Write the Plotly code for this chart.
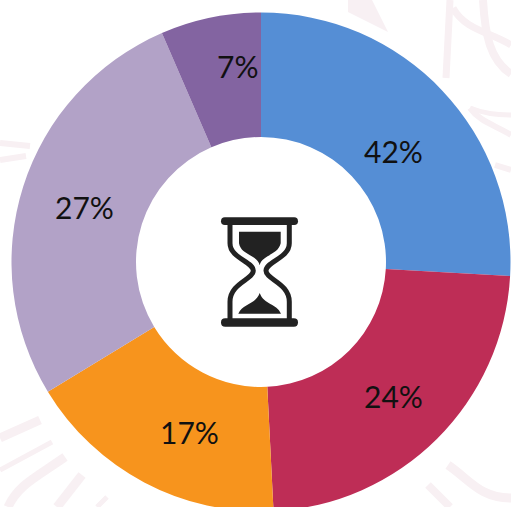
import plotly.graph_objects as go

# Data
slice_labels = ["42%", "24%", "17%", "27%", "7%"]
slice_sizes = [25.9, 23.3, 17.1, 27.2, 6.5]
slice_colors = ["#558ed5", "#be2d56", "#f7941d", "#b2a2c7", "#8364a1"]

W, H = 511, 507
CX, CY, R = 261, 262, 249.5

# Hand-placed label anchors, in page pixels
label_xy = [(393, 151), (393, 396), (189, 432), (84, 207), (237, 66)]


def zx(v):
    return 190 + v / 3


def zy(v):
    return 190 + v / 3


def P(x, y):
    return f"{zx(x):.1f},{zy(y):.1f}"


def bar(x0, x1, y0, y1):
    m = (y0 + y1) / 2
    r = (y1 - y0) / 2
    return (
        f"M{P(x0 + r, y0)} L{P(x1 - r, y0)} Q{P(x1, y0)} {P(x1, m)} Q{P(x1, y1)} {P(x1 - r, y1)} "
        f"L{P(x0 + r, y1)} Q{P(x0, y1)} {P(x0, m)} Q{P(x0, y0)} {P(x0 + r, y0)} Z"
    )


ICON = "#222222"
glass_left = (
    f"M{P(120,100)} L{P(120,160)} C{P(120,205)} {P(190,215)} {P(190,242)} "
    f"C{P(190,268)} {P(120,280)} {P(120,335)} L{P(120,392)}"
)
glass_right = (
    f"M{P(298,100)} L{P(298,160)} C{P(298,205)} {P(228,215)} {P(228,242)} "
    f"C{P(228,268)} {P(298,280)} {P(298,335)} L{P(298,392)}"
)
sand_top = f"M{P(147,125)} L{P(272,125)} L{P(272,160)} C{P(265,195)} {P(215,195)} {P(209,226)} C{P(203,195)} {P(152,195)} {P(147,160)} Z"
sand_bot = f"M{P(145,371)} L{P(273,371)} C{P(260,340)} {P(222,345)} {P(209,309)} C{P(196,345)} {P(158,340)} {P(145,371)} Z"

shapes = []

# Faint watermark strokes behind the ring
BG = "#f8f0f3"
strokes = [
    ("M0,438 L40,420", 9),
    ("M0,470 L52,442", 5),
    ("M8,507 C18,485 35,478 65,457", 9),
    ("M57,507 L82,475", 9),
    ("M97,507 L107,497", 5),
    ("M448,465 C470,480 480,498 511,498", 9),
    ("M428,485 L450,507", 8),
    ("M0,143 L30,146", 6),
    ("M0,160 L26,156", 6),
    ("M450,0 L446,78", 7),
    ("M453,8 C465,30 490,32 511,45", 7),
    ("M483,0 C485,35 490,60 511,74", 8),
    ("M470,108 C485,114 500,115 511,115", 5),
    ("M470,108 C480,122 495,125 511,135", 6),
    ("M495,165 L511,170", 6),
]
for path, w in strokes:
    shapes.append(dict(type="path", path=path, xref="x", yref="y", layer="below",
                       line=dict(color=BG, width=w)))
shapes.append(dict(type="path", path="M348,0 L348,12 L388,32 L372,0 Z", xref="x", yref="y",
                   layer="below", fillcolor=BG, line=dict(width=0)))

# Hourglass icon
for path, fill in [(glass_left, None), (glass_right, None), (sand_top, ICON), (sand_bot, ICON)]:
    shapes.append(dict(type="path", path=path, xref="x", yref="y", layer="above",
                       fillcolor=fill if fill else "rgba(0,0,0,0)",
                       line=dict(color=ICON, width=5 if fill is None else 0)))
for y0, y1 in ((82, 105), (385, 410)):
    shapes.append(dict(type="path", path=bar(93, 324, y0, y1), xref="x", yref="y",
                       layer="above", fillcolor=ICON, line=dict(width=0)))

fig = go.Figure(
    go.Pie(
        values=slice_sizes,
        labels=slice_labels,
        marker=dict(colors=slice_colors, line=dict(width=0)),
        hole=125 / 249.5,
        sort=False,
        direction="clockwise",
        rotation=0,
        textinfo="none",
        showlegend=False,
        domain=dict(x=[(CX - R) / W, (CX + R) / W], y=[0, 1]),
    )
)

annotations = [
    dict(text=t, x=x, y=y, xref="x", yref="y", showarrow=False,
         font=dict(family="Lato, Carlito, sans-serif", size=30, color="#111111"))
    for t, (x, y) in zip(slice_labels, label_xy)
]

fig.update_layout(
    width=W,
    height=2 * CY,
    margin=dict(l=0, r=0, t=0, b=0),
    paper_bgcolor="white",
    plot_bgcolor="white",
    shapes=shapes,
    annotations=annotations,
    xaxis=dict(range=[0, W], visible=False, fixedrange=True),
    yaxis=dict(range=[2 * CY, 0], visible=False, fixedrange=True),
)

fig.write_html(
    "out.html",
    config={"displayModeBar": False},
    post_script="document.body.style.margin='0';document.documentElement.style.overflow='hidden';",
)
